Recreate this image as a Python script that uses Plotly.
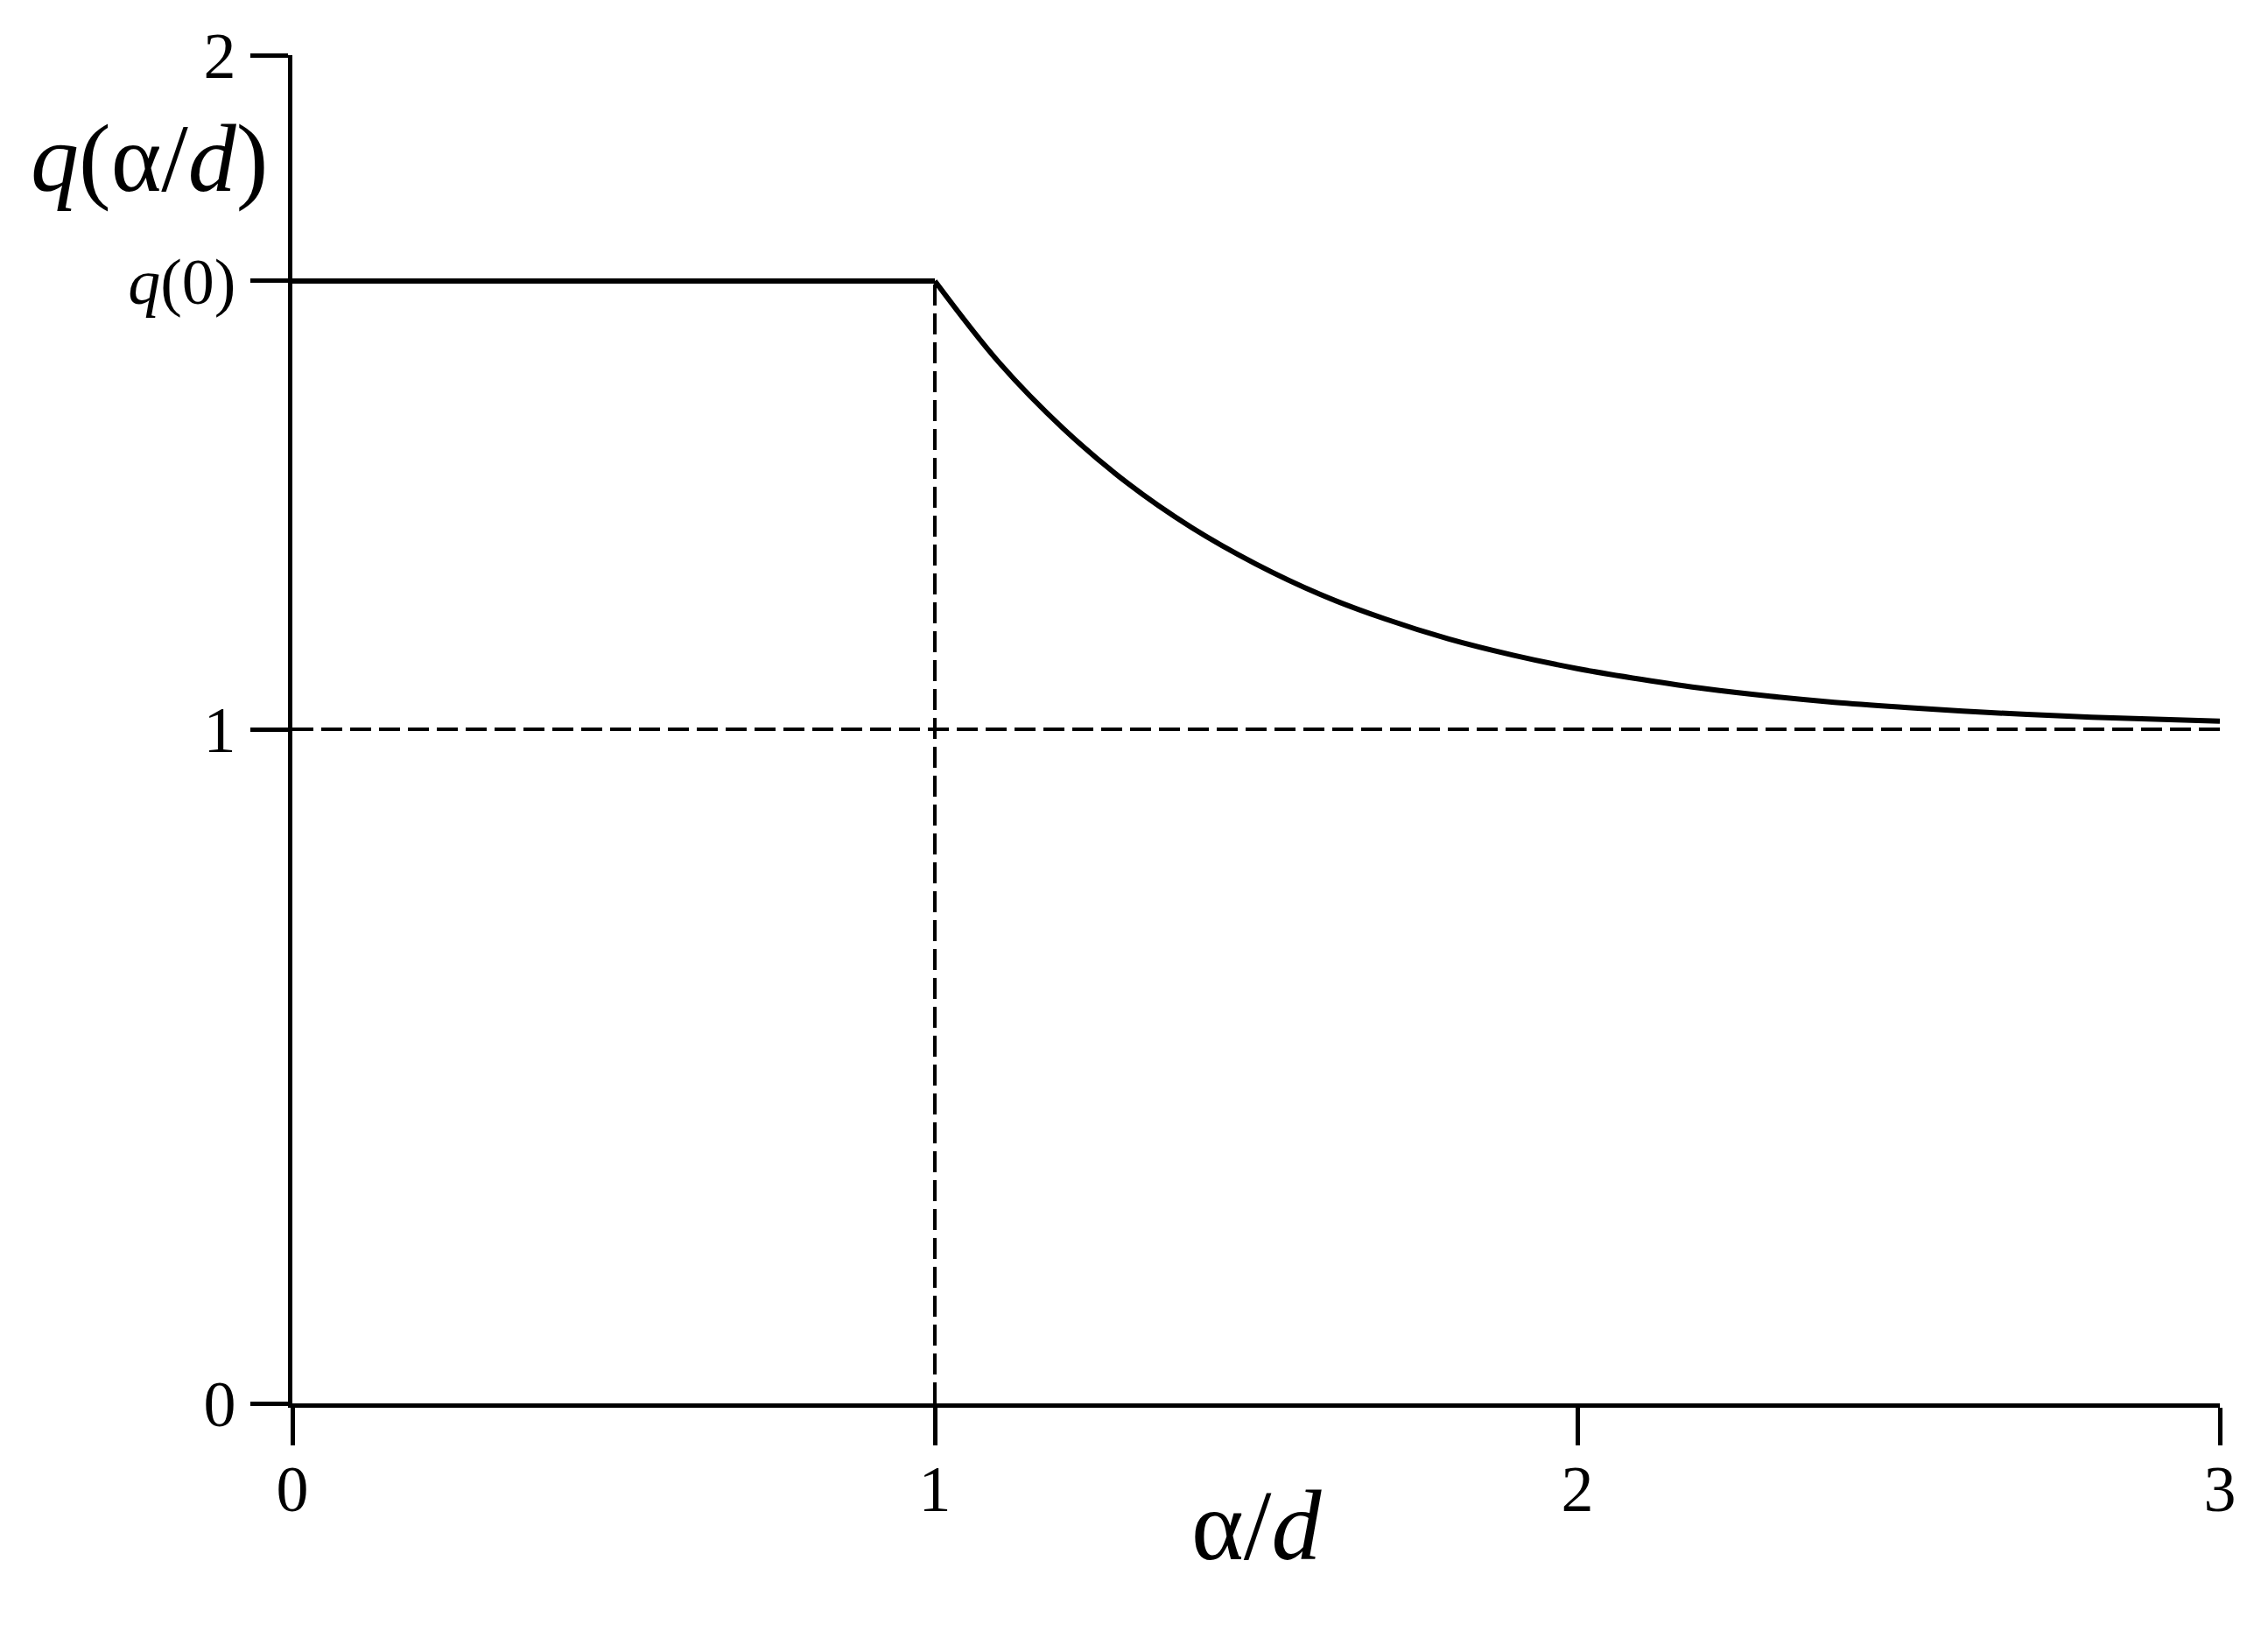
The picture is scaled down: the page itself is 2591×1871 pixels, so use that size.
import plotly.graph_objects as go

# ---- data ----
q0 = 1.665  # q(0)
flat_x = [0.0, 1.0]
flat_y = [q0, q0]
decay_x = [1.0, 1.1, 1.2, 1.3, 1.4, 1.5, 1.6, 1.7, 1.8, 1.9, 2.0,
           2.1, 2.2, 2.3, 2.4, 2.5, 2.6, 2.7, 2.8, 2.9, 3.0]
decay_y = [1.665, 1.544, 1.446, 1.365, 1.299, 1.245, 1.200, 1.164, 1.134, 1.110, 1.090,
           1.074, 1.060, 1.049, 1.040, 1.033, 1.027, 1.022, 1.018, 1.015, 1.012]
ref_h_x = [0.0, 3.0]
ref_h_y = [1.0, 1.0]
ref_v_x = [1.0, 1.0]
ref_v_y = [0.0, q0]
x_ticks = [0, 1, 2, 3]
x_ticktext = ["0", "1", "2", "3"]
y_ticks = [0, 1, q0, 2]
y_ticktext = ["0", "1", "<i>q</i>(0)", "2"]

FONT = "Liberation Serif, Times New Roman, serif"
dash = "24px,9px"

fig = go.Figure()
fig.add_trace(go.Scatter(x=ref_h_x, y=ref_h_y, mode="lines",
                         line=dict(color="black", width=4, dash=dash), hoverinfo="skip"))
fig.add_trace(go.Scatter(x=ref_v_x, y=ref_v_y, mode="lines",
                         line=dict(color="black", width=4, dash=dash), hoverinfo="skip"))
fig.add_trace(go.Scatter(x=flat_x, y=flat_y, mode="lines",
                         line=dict(color="black", width=6), hoverinfo="skip"))
fig.add_trace(go.Scatter(x=decay_x, y=decay_y, mode="lines",
                         line=dict(color="black", width=6, shape="spline", smoothing=1.0),
                         hoverinfo="skip"))

axis_common = dict(showline=True, linewidth=4.5, linecolor="black", ticks="outside",
                   ticklen=43, tickwidth=4.5, tickcolor="black", showgrid=False,
                   zeroline=False, tickfont=dict(family=FONT, size=74, color="black"))

fig.update_layout(
    width=2591, height=1871,
    margin=dict(l=326, r=63, t=55, b=276),
    paper_bgcolor="white", plot_bgcolor="white",
    showlegend=False,
    xaxis=dict(range=[0, 3], tickmode="array", tickvals=x_ticks, ticktext=x_ticktext,
               ticklabelstandoff=-14, **axis_common),
    yaxis=dict(range=[0, 2], tickmode="array", tickvals=y_ticks, ticktext=y_ticktext,
               ticklabelstandoff=2, **axis_common),
    annotations=[
        dict(text="<i>q</i>(α/<i>d</i>)", xref="paper", yref="paper",
             x=-0.1367, y=0.9234, xanchor="left", yanchor="middle", showarrow=False,
             font=dict(family=FONT, size=110, color="black")),
        dict(text="α/<i>d</i>", xref="paper", yref="paper",
             x=0.5, y=-0.0909, xanchor="center", yanchor="middle", showarrow=False,
             font=dict(family=FONT, size=114, color="black")),
    ],
)

fig.write_html("out.html")
